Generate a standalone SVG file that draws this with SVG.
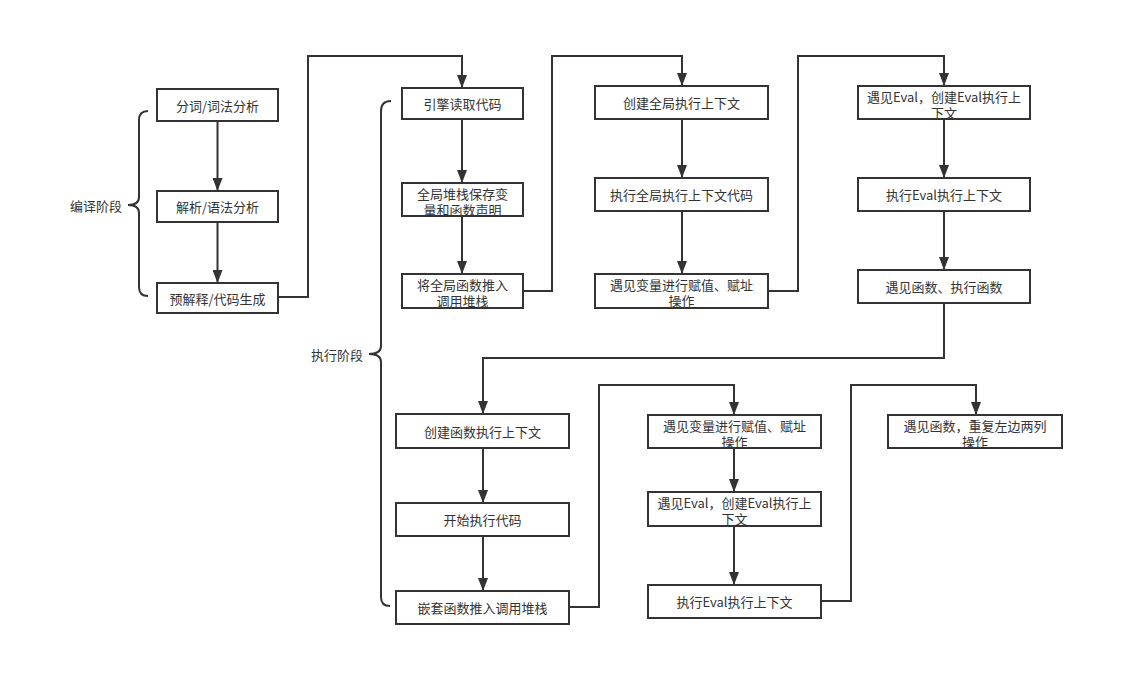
<svg xmlns="http://www.w3.org/2000/svg" width="1124" height="686" viewBox="0 0 1124 686">
<defs>
<marker id="ah" viewBox="0 0 13 10" refX="13" refY="5" markerWidth="13" markerHeight="10" markerUnits="userSpaceOnUse" orient="auto">
<path d="M0,0 L13,5 L0,10 Z" fill="#333"/>
</marker>
<style>
.box{fill:#fff;stroke:#333;stroke-width:2}
.t{font-family:"Noto Sans CJK SC","Noto Sans",sans-serif;font-size:13px;fill:#333;text-anchor:middle;dominant-baseline:central}
.lbl{font-family:"Noto Sans CJK SC","Noto Sans",sans-serif;font-size:13px;fill:#333;text-anchor:end;dominant-baseline:central}
.c{fill:none;stroke:#333;stroke-width:2}
.ar{marker-end:url(#ah)}
.brace{fill:none;stroke:#333;stroke-width:2}
</style>
</defs>
<rect width="1124" height="686" fill="#fff"/>
<g id="braces">
<path class="brace" d="M148,111 Q139,111 139,120 V197 Q139,205 128,205 Q139,205 139,213 V287 Q139,296 148,296"/>
<text class="lbl" x="122" y="205">编译阶段</text>
<path class="brace" d="M391,101 Q381,101 381,111 V346 Q381,354 369,354 Q381,354 381,362 V597 Q381,606 390,606"/>
<text class="lbl" x="363" y="354">执行阶段</text>
</g>
<g id="connectors">
<path class="c ar" d="M217.5,121 V191"/>
<path class="c ar" d="M217.5,222 V283"/>
<path class="c ar" d="M278,297 H308 V56 H462 V88"/>
<path class="c ar" d="M462,119 V183"/>
<path class="c ar" d="M462,216 V274"/>
<path class="c ar" d="M523,291 H552 V56 H682 V86"/>
<path class="c ar" d="M682,119 V178"/>
<path class="c ar" d="M682,211 V274"/>
<path class="c ar" d="M768,291 H798 V56 H944 V86"/>
<path class="c ar" d="M944,119 V178"/>
<path class="c ar" d="M944,211 V270"/>
<path class="c ar" d="M944,303 V358 H483 V414"/>
<path class="c ar" d="M483,448 V503"/>
<path class="c ar" d="M483,536 V591"/>
<path class="c ar" d="M569,607 H599 V385 H734 V415"/>
<path class="c ar" d="M734,448 V492"/>
<path class="c ar" d="M734,526 V585"/>
<path class="c ar" d="M821,601 H851 V385 H976 V415"/>
</g>
<g id="n1"><rect class="box" x="157" y="89" width="121" height="32"/><text class="t" x="217.5" y="105">分词/词法分析</text></g>
<g id="n2"><rect class="box" x="157" y="191" width="121" height="31"/><text class="t" x="217.5" y="206.5">解析/语法分析</text></g>
<g id="n3"><rect class="box" x="157" y="283" width="121" height="30"/><text class="t" x="217.5" y="298">预解释/代码生成</text></g>
<g id="n4"><rect class="box" x="402" y="88" width="121" height="31"/><text class="t" x="462.5" y="103.5">引擎读取代码</text></g>
<g id="n5"><rect class="box" x="402" y="183" width="121" height="33"/><text class="t" x="462.5" y="193">全局堆栈保存变</text><text class="t" x="462.5" y="209">量和函数声明</text></g>
<g id="n6"><rect class="box" x="402" y="274" width="121" height="34"/><text class="t" x="462.5" y="284.5">将全局函数推入</text><text class="t" x="462.5" y="300.5">调用堆栈</text></g>
<g id="n7"><rect class="box" x="595" y="86" width="173" height="33"/><text class="t" x="681.5" y="102.5">创建全局执行上下文</text></g>
<g id="n8"><rect class="box" x="595" y="178" width="173" height="33"/><text class="t" x="681.5" y="194.5">执行全局执行上下文代码</text></g>
<g id="n9"><rect class="box" x="595" y="274" width="173" height="34"/><text class="t" x="681.5" y="284.5">遇见变量进行赋值、赋址</text><text class="t" x="681.5" y="300.5">操作</text></g>
<g id="n10"><rect class="box" x="858" y="86" width="172" height="33"/><text class="t" x="944" y="96">遇见Eval，创建Eval执行上</text><text class="t" x="944" y="112">下文</text></g>
<g id="n11"><rect class="box" x="858" y="178" width="172" height="33"/><text class="t" x="944" y="194.5">执行Eval执行上下文</text></g>
<g id="n12"><rect class="box" x="858" y="270" width="172" height="33"/><text class="t" x="944" y="286.5">遇见函数、执行函数</text></g>
<g id="n13"><rect class="box" x="396" y="414" width="173" height="34"/><text class="t" x="482.5" y="431">创建函数执行上下文</text></g>
<g id="n14"><rect class="box" x="396" y="503" width="173" height="33"/><text class="t" x="482.5" y="519.5">开始执行代码</text></g>
<g id="n15"><rect class="box" x="396" y="591" width="173" height="33"/><text class="t" x="482.5" y="607.5">嵌套函数推入调用堆栈</text></g>
<g id="n16"><rect class="box" x="648" y="415" width="173" height="33"/><text class="t" x="734.5" y="425">遇见变量进行赋值、赋址</text><text class="t" x="734.5" y="441">操作</text></g>
<g id="n17"><rect class="box" x="648" y="492" width="173" height="34"/><text class="t" x="734.5" y="502.5">遇见Eval，创建Eval执行上</text><text class="t" x="734.5" y="518.5">下文</text></g>
<g id="n18"><rect class="box" x="648" y="585" width="173" height="33"/><text class="t" x="734.5" y="601.5">执行Eval执行上下文</text></g>
<g id="n19"><rect class="box" x="888" y="415" width="174" height="33"/><text class="t" x="975" y="425">遇见函数，重复左边两列</text><text class="t" x="975" y="441">操作</text></g>
</svg>
